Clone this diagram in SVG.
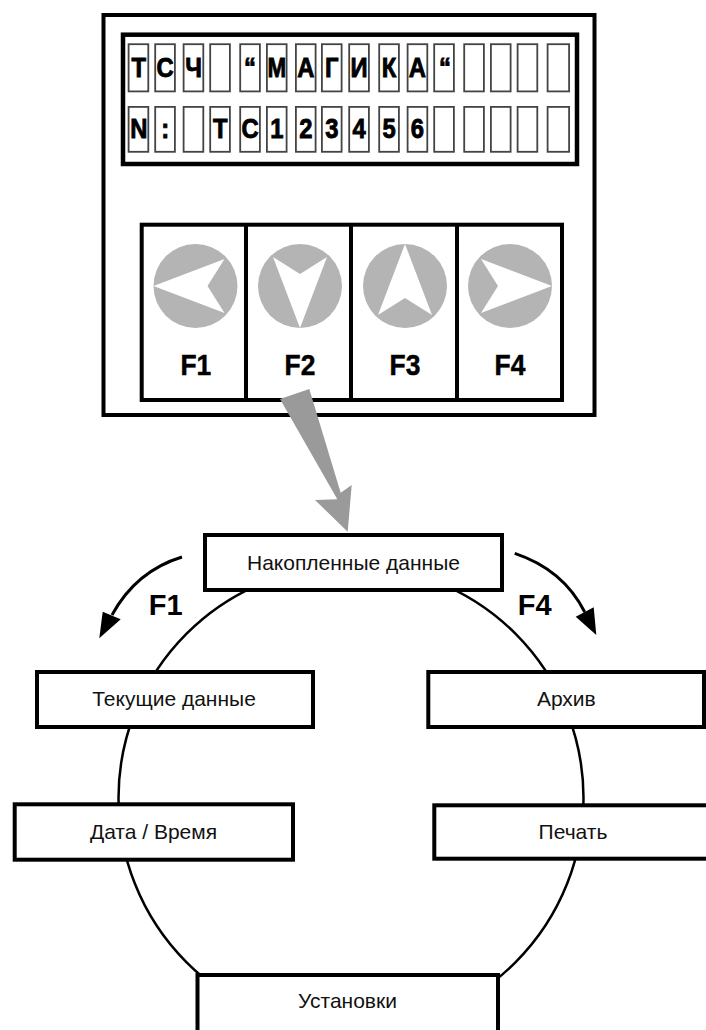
<svg xmlns="http://www.w3.org/2000/svg" xmlns:xlink="http://www.w3.org/1999/xlink" width="706" height="1030" viewBox="0 0 706 1030">
<style>
.frame{fill:#fff;stroke:#000;stroke-width:4}
.cell{fill:#fff;stroke:#444;stroke-width:1.8}
.lcdc{font-family:"Liberation Sans",Arial,sans-serif;font-weight:bold;font-size:28px;text-anchor:middle;fill:#000;stroke:#000;stroke-width:0.9}
.btn{fill:#b4b4b4}
.fk{font-family:"Liberation Sans",Arial,sans-serif;font-weight:bold;font-size:29px;text-anchor:middle;fill:#000}
.fp{font-family:"Liberation Sans",Arial,sans-serif;font-weight:bold;font-size:30px;text-anchor:middle;fill:#000;stroke:#000;stroke-width:0.5}
.node{fill:#fff;stroke:#000;stroke-width:4}
.nt{font-family:"Liberation Sans",Arial,sans-serif;font-size:21px;text-anchor:middle;fill:#111}
.ring{fill:none;stroke:#000;stroke-width:2.5}
.curve{fill:none;stroke:#000;stroke-width:3}
</style>
<defs>
<path id="arr" d="M-42,0 L29,-27 L12,0 L29,27 Z" fill="#fff"/>
</defs>

<g id="device">
<rect class="frame" x="103.5" y="15" width="491" height="400"/>
<rect x="123" y="34.7" width="454" height="129.3" fill="#fff" stroke="#000" stroke-width="4.5"/>
<g id="lcd-row1">
<rect class="cell" x="128.6" y="44.2" width="19.7" height="47.2"/>
<rect class="cell" x="155.2" y="44.2" width="19.7" height="47.2"/>
<rect class="cell" x="183.6" y="44.2" width="19.7" height="47.2"/>
<rect class="cell" x="210.2" y="44.2" width="19.7" height="47.2"/>
<rect class="cell" x="240.2" y="44.2" width="19.7" height="47.2"/>
<rect class="cell" x="266.9" y="44.2" width="19.7" height="47.2"/>
<rect class="cell" x="295.9" y="44.2" width="19.7" height="47.2"/>
<rect class="cell" x="321.9" y="44.2" width="19.7" height="47.2"/>
<rect class="cell" x="349.2" y="44.2" width="19.7" height="47.2"/>
<rect class="cell" x="379.2" y="44.2" width="19.7" height="47.2"/>
<rect class="cell" x="407.6" y="44.2" width="19.7" height="47.2"/>
<rect class="cell" x="434.2" y="44.2" width="19.7" height="47.2"/>
<rect class="cell" x="464.2" y="44.2" width="19.7" height="47.2"/>
<rect class="cell" x="490.9" y="44.2" width="19.7" height="47.2"/>
<rect class="cell" x="517.6" y="44.2" width="19.7" height="47.2"/>
<rect class="cell" x="547.6" y="44.2" width="21.5" height="47.2"/>
<text class="lcdc" transform="translate(138.8,77) scale(0.85,1)">Т</text>
<text class="lcdc" transform="translate(165.2,77) scale(0.85,1)">С</text>
<text class="lcdc" transform="translate(193.6,77) scale(0.85,1)">Ч</text>
<text class="lcdc" transform="translate(250,77) scale(0.85,1)">“</text>
<text class="lcdc" transform="translate(276.8,77) scale(0.8,1)">М</text>
<text class="lcdc" transform="translate(305.8,77) scale(0.85,1)">А</text>
<text class="lcdc" transform="translate(331.8,77) scale(0.85,1)">Г</text>
<text class="lcdc" transform="translate(359,77) scale(0.85,1)">И</text>
<text class="lcdc" transform="translate(389,77) scale(0.85,1)">К</text>
<text class="lcdc" transform="translate(417.4,77) scale(0.85,1)">А</text>
<text class="lcdc" transform="translate(445,77) scale(0.85,1)">“</text>
</g>
<g id="lcd-row2">
<rect class="cell" x="128.6" y="106.9" width="19.7" height="44.9"/>
<rect class="cell" x="155.2" y="106.9" width="19.7" height="44.9"/>
<rect class="cell" x="183.6" y="106.9" width="19.7" height="44.9"/>
<rect class="cell" x="210.2" y="106.9" width="19.7" height="44.9"/>
<rect class="cell" x="240.2" y="106.9" width="19.7" height="44.9"/>
<rect class="cell" x="266.9" y="106.9" width="19.7" height="44.9"/>
<rect class="cell" x="295.9" y="106.9" width="19.7" height="44.9"/>
<rect class="cell" x="321.9" y="106.9" width="19.7" height="44.9"/>
<rect class="cell" x="349.2" y="106.9" width="19.7" height="44.9"/>
<rect class="cell" x="379.2" y="106.9" width="19.7" height="44.9"/>
<rect class="cell" x="407.6" y="106.9" width="19.7" height="44.9"/>
<rect class="cell" x="434.2" y="106.9" width="19.7" height="44.9"/>
<rect class="cell" x="464.2" y="106.9" width="19.7" height="44.9"/>
<rect class="cell" x="490.9" y="106.9" width="19.7" height="44.9"/>
<rect class="cell" x="517.6" y="106.9" width="19.7" height="44.9"/>
<rect class="cell" x="547.6" y="106.9" width="21.5" height="44.9"/>
<text class="lcdc" transform="translate(138.8,137.5) scale(0.85,1)">N</text>
<text class="lcdc" transform="translate(165.2,137.5) scale(0.85,1)">:</text>
<text class="lcdc" transform="translate(220.2,137.5) scale(0.85,1)">Т</text>
<text class="lcdc" transform="translate(250.2,137.5) scale(0.85,1)">С</text>
<text class="lcdc" transform="translate(276.8,137.5) scale(0.85,1)">1</text>
<text class="lcdc" transform="translate(305.8,137.5) scale(0.85,1)">2</text>
<text class="lcdc" transform="translate(331.8,137.5) scale(0.85,1)">3</text>
<text class="lcdc" transform="translate(359,137.5) scale(0.85,1)">4</text>
<text class="lcdc" transform="translate(389,137.5) scale(0.85,1)">5</text>
<text class="lcdc" transform="translate(417.4,137.5) scale(0.85,1)">6</text>
</g>
<g id="keypad">
<rect class="frame" x="141.7" y="224.7" width="420.3" height="175.3"/>
<line x1="246" y1="224.7" x2="246" y2="400" stroke="#000" stroke-width="4"/>
<line x1="351" y1="224.7" x2="351" y2="400" stroke="#000" stroke-width="4"/>
<line x1="457" y1="224.7" x2="457" y2="400" stroke="#000" stroke-width="4"/>
<g id="key-f1">
<circle class="btn" cx="195.5" cy="286" r="42"/>
<use xlink:href="#arr" href="#arr" transform="translate(195.5,286)"/>
<text class="fp" transform="translate(195.8,374.5) scale(0.88,1)">F1</text>
</g>
<g id="key-f2">
<circle class="btn" cx="300" cy="286" r="42"/>
<use xlink:href="#arr" href="#arr" transform="translate(300,286) rotate(-90)"/>
<text class="fp" transform="translate(300,374.5) scale(0.88,1)">F2</text>
</g>
<g id="key-f3">
<circle class="btn" cx="405" cy="286" r="42"/>
<use xlink:href="#arr" href="#arr" transform="translate(405,286) rotate(90)"/>
<text class="fp" transform="translate(405,374.5) scale(0.88,1)">F3</text>
</g>
<g id="key-f4">
<circle class="btn" cx="510" cy="286" r="42"/>
<use xlink:href="#arr" href="#arr" transform="translate(510,286) rotate(180)"/>
<text class="fp" transform="translate(510,374.5) scale(0.88,1)">F4</text>
</g>
</g>
</g>

<g id="connectors">
<path d="M280,399 L337.3,499.3 L315,500 L347.7,531.7 L351.7,485 L340.7,492.7 L309.3,389 Z" fill="#9a9a9a"/>
<circle class="ring" cx="351" cy="798" r="232.5"/>
<path class="curve" d="M182,557 Q136,571 112,615"/>
<path d="M99.3,638.3 L102.7,611.7 L120.7,619.3 Z" fill="#000"/>
<path class="curve" d="M514.7,553.3 Q563.2,569.4 584.7,612"/>
<path d="M596.3,635 L575.7,616.7 L593.7,607.3 Z" fill="#000"/>
<text class="fk" x="165.7" y="615">F1</text>
<text class="fk" x="534.7" y="615">F4</text>
</g>

<g id="node-accum">
<rect class="node" x="205" y="535" width="297" height="55"/>
<text class="nt" x="353.5" y="569.5">Накопленные данные</text>
</g>
<g id="node-current">
<rect class="node" x="37" y="672" width="276" height="55"/>
<text class="nt" x="174" y="705.5">Текущие данные</text>
</g>
<g id="node-archive">
<rect class="node" x="428.3" y="672" width="275.7" height="55"/>
<text class="nt" x="566.3" y="706">Архив</text>
</g>
<g id="node-datetime">
<rect class="node" x="14.7" y="804.3" width="278.3" height="55.4"/>
<text class="nt" x="153.5" y="839">Дата / Время</text>
</g>
<g id="node-print">
<rect class="node" x="434.3" y="805.3" width="290" height="53.4"/>
<text class="nt" x="573" y="839">Печать</text>
</g>
<g id="node-settings">
<rect class="node" x="197.5" y="975" width="300.5" height="80"/>
<text class="nt" x="347.5" y="1008">Установки</text>
</g>
</svg>
